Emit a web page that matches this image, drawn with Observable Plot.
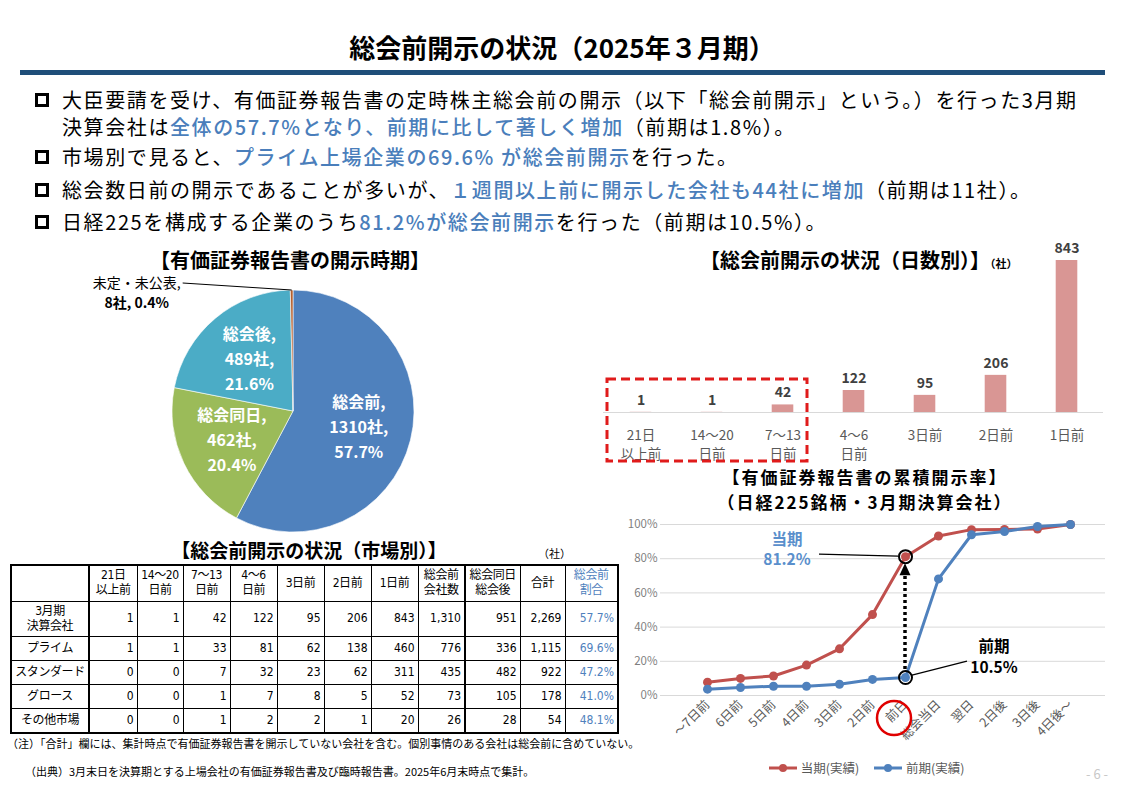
<!DOCTYPE html>
<html><head><meta charset="utf-8">
<script src="https://cdn.jsdelivr.net/npm/d3@7"></script>
<script src="https://cdn.jsdelivr.net/npm/@observablehq/plot@0.6"></script>
<style>
body{margin:0;background:#fff;}
#page{position:relative;width:1124px;height:792px;overflow:hidden;background:#fff;font-family:"Noto Sans CJK JP","Noto Sans",sans-serif;color:#000;}
.abs{position:absolute;}
.title{left:0;top:30px;width:1124px;text-align:center;font-size:26px;font-weight:bold;line-height:34px;}
.rule{left:20px;top:70px;width:1085px;height:5px;background:#1f4e79;}
.bl{left:62px;font-size:20px;line-height:27px;letter-spacing:1.6px;white-space:nowrap;}
.hl{color:#4a7ebb;font-weight:500;}
.sq{left:35px;width:8px;height:8px;border:3px solid #000;}
.sub{font-size:20px;font-weight:bold;white-space:nowrap;text-align:center;}
.unit{font-size:11px;}
table.t{border-collapse:collapse;table-layout:fixed;font-size:12px;}
table.t td{border:1px solid #000;padding:0 3px;white-space:pre;overflow:hidden;line-height:15px;font-family:"Liberation Sans Narrow","DejaVu Sans Condensed","Noto Sans CJK JP",sans-serif;}
table.t td.hd{padding:0;letter-spacing:-0.4px;}
.note{font-size:11px;white-space:nowrap;}
.leg{font-size:12.5px;color:#595959;white-space:nowrap;}
</style></head><body><div id="page"></div>
<script>
// ---------- data ----------
const pieLabels = ["総会前", "総会同日", "総会後", "未定・未公表"];
const pieCounts = [1310, 462, 489, 8];
const piePct = [57.7, 20.4, 21.6, 0.4];
const pieColors = ["#4f81bd", "#9bbb59", "#4bacc6", "#b5602f"];

const barCats = ["21日\n以上前", "14〜20\n日前", "7〜13\n日前", "4〜6\n日前", "3日前", "2日前", "1日前"];
const barValues = [1, 1, 42, 122, 95, 206, 843];

const lineCats = ["〜7日前", "6日前", "5日前", "4日前", "3日前", "2日前", "前日", "総会当日", "翌日", "2日後", "3日後", "4日後〜"];
const currentPct = [7.8, 10.0, 11.4, 17.8, 27.3, 47.3, 81.2, 93.3, 97.0, 97.1, 97.4, 100];
const priorPct = [3.7, 4.7, 5.4, 5.4, 6.6, 9.4, 10.5, 68.2, 94.0, 95.9, 98.8, 100];
const seriesNames = ["当期(実績)", "前期(実績)"];
const seriesColors = ["#c0504d", "#4f81bd"];

const tableCols = ["21日\n以上前", "14〜20\n日前", "7〜13\n日前", "4〜6\n日前", "3日前", "2日前", "1日前", "総会前\n会社数", "総会同日\n総会後", "合計", "総会前\n割合"];
const tableRows = ["3月期\n決算会社", "プライム", "スタンダード", "グロース", "その他市場"];
const tblMarch = [1, 1, 42, 122, 95, 206, 843, 1310, 951, 2269, 57.7];
const tblPrime = [1, 1, 33, 81, 62, 138, 460, 776, 336, 1115, 69.6];
const tblStandard = [0, 0, 7, 32, 23, 62, 311, 435, 482, 922, 47.2];
const tblGrowth = [0, 0, 1, 7, 8, 5, 52, 73, 105, 178, 41.0];
const tblOther = [0, 0, 1, 2, 2, 1, 20, 26, 28, 54, 48.1];

// ---------- page ----------
const FONT = '"Noto Sans CJK JP","Noto Sans",sans-serif';
const page = document.getElementById("page");
function add(html, cls, css) {
  const d = document.createElement("div");
  d.className = "abs " + (cls || "");
  d.innerHTML = html;
  Object.assign(d.style, css || {});
  page.appendChild(d);
  return d;
}
add("総会前開示の状況（2025年３月期）", "title");
add("", "rule");
[100, 157, 190, 222].forEach(y => add("", "sq", {top: (y - 7) + "px"}));
add('大臣要請を受け、有価証券報告書の定時株主総会前の開示（以下「総会前開示」という。）を行った3月期<br>決算会社は<span class="hl">全体の57.7%となり、前期に比して著しく増加</span>（前期は1.8%）。', "bl", {top: "86px"});
add('市場別で見ると、<span class="hl">プライム上場企業の69.6% が総会前開示</span>を行った。', "bl", {top: "143px"});
add('総会数日前の開示であることが多いが、<span class="hl">１週間以上前に開示した会社も44社に増加</span>（前期は11社）。', "bl", {top: "176px"});
add('日経225を構成する企業のうち<span class="hl">81.2%が総会前開示</span>を行った（前期は10.5%）。', "bl", {top: "208px"});

// ---------- pie ----------
add("【有価証券報告書の開示時期】", "sub", {left: "90px", width: "400px", top: "246px", lineHeight: "28px"});
const pie = Plot.plot({
  width: 340, height: 280, marginLeft: 89, marginRight: 9, marginTop: 29, marginBottom: 9,
  x: {domain: [-1, 1], axis: null}, y: {domain: [1, -1], axis: null},
  color: {domain: pieLabels, range: pieColors},
  style: {background: "transparent", fontFamily: FONT, overflow: "visible"},
  marks: [
    Plot.dot(pieLabels, {x: () => 0, y: () => 0, r: 0, fill: d => d}),
    (index, scales) => {
      const cx = scales.x(0), cy = scales.y(0), r = scales.x(1) - cx;
      const g = d3.create("svg:g").attr("transform", `translate(${cx},${cy})`);
      const arcs = d3.pie().sort(null).value(i => pieCounts[i])(d3.range(pieLabels.length));
      const arc = d3.arc().innerRadius(0).outerRadius(r);
      g.selectAll("path").data(arcs).join("path")
        .attr("d", arc).attr("fill", a => scales.color(pieLabels[a.data]))
        .attr("stroke", "#fff").attr("stroke-width", 0.6);
      const lab = d3.arc().innerRadius(r * 0.56).outerRadius(r * 0.56);
      arcs.slice(0, 3).forEach(a => {
        const [lx, ly] = lab.centroid(a);
        const i = a.data;
        [pieLabels[i] + ",", pieCounts[i] + "社,", piePct[i].toFixed(1) + "%"].forEach((s, k) =>
          g.append("text").attr("fill", "#fff").attr("font-weight", "bold")
            .attr("font-size", 16).attr("text-anchor", "middle")
            .attr("x", lx).attr("y", ly + (k - 1) * 25 + 6).text(s));
      });
      // small slice: outside label with leader
      const a = arcs[3];
      const edge = d3.arc().innerRadius(r).outerRadius(r).centroid(a);
      g.append("line").attr("x1", edge[0] - 109).attr("y1", edge[1] - 7).attr("x2", edge[0]).attr("y2", edge[1])
        .attr("stroke", "#000").attr("stroke-width", 1);
      g.append("text").attr("text-anchor", "middle").attr("font-size", 14).attr("fill", "#000")
        .attr("x", edge[0] - 155).attr("y", edge[1] - 2).text(pieLabels[3] + ",");
      g.append("text").attr("text-anchor", "middle").attr("font-size", 14).attr("fill", "#000")
        .attr("x", edge[0] - 155).attr("y", edge[1] + 18).attr("font-weight", "bold")
        .text(pieCounts[3] + "社, " + piePct[3].toFixed(1) + "%");
      return g.node();
    }
  ]
});
add("", "", {left: "83px", top: "261px"}).appendChild(pie);

// ---------- bar ----------
add('【総会前開示の状況（日数別）】<span class="unit">（社）</span>', "sub", {left: "700px", width: "330px", top: "246px", lineHeight: "28px", textAlign: "left"});
const barData = barCats.map((c, i) => ({c, v: barValues[i]}));
const bar = Plot.plot({
  width: 510, height: 250, marginLeft: 3, marginRight: 7, marginTop: 20, marginBottom: 78,
  x: {domain: barCats, padding: 0, label: null},
  y: {domain: [0, 843], axis: null},
  style: {background: "transparent", fontFamily: FONT, overflow: "visible"},
  marks: [
    Plot.barY(barData, {x: "c", y: "v", fill: "#d99694", insetLeft: 24.7, insetRight: 24.7}),
    Plot.ruleY([0], {stroke: "#d9d9d9", strokeWidth: 1.2}),
    Plot.text(barData, {x: "c", y: "v", text: d => String(d.v), dy: -12, fontWeight: "bold", fontSize: 14, fill: "#404040"}),
    Plot.axisX({tickSize: 0, tickPadding: 15, fontSize: 13.5, color: "#595959", lineAnchor: "top", lineHeight: 1.35, label: null})
  ]
});
add("", "", {left: "600px", top: "240px"}).appendChild(bar);
add('<svg width="206" height="88"><rect x="3" y="3" width="200" height="82" fill="none" stroke="#e01b1b" stroke-width="3" stroke-dasharray="9,5"/></svg>', "", {left: "604px", top: "376px"});

// ---------- line ----------
add('【有価証券報告書の累積開示率】', "sub", {left: "665px", width: "400px", top: "465px", lineHeight: "24px", fontSize: "17px", letterSpacing: "2px"});
add('（日経225銘柄・3月期決算会社）', "sub", {left: "665px", width: "400px", top: "490px", lineHeight: "24px", fontSize: "17px", letterSpacing: "2px"});
const lineData = lineCats.flatMap((c, i) => [
  {c, v: currentPct[i], s: seriesNames[0]},
  {c, v: priorPct[i], s: seriesNames[1]}
]);
const iFront = lineCats.indexOf("前日");
const hiPts = [{c: lineCats[iFront], v: currentPct[iFront]}, {c: lineCats[iFront], v: priorPct[iFront]}];
const yTicks = [0, 20, 40, 60, 80, 100];
const line = Plot.plot({
  width: 505, height: 250, marginLeft: 50, marginRight: 10, marginTop: 14, marginBottom: 65,
  x: {type: "point", domain: lineCats, range: [78, 478], label: null},
  y: {domain: [0, 100], label: null},
  color: {domain: seriesNames, range: seriesColors},
  style: {background: "transparent", fontFamily: FONT, overflow: "visible"},
  marks: [
    Plot.gridY(yTicks, {stroke: "#d9d9d9", strokeOpacity: 1}),
    Plot.axisY(yTicks, {tickSize: 0, tickPadding: 3, fontSize: 11.5, color: "#7f7f7f", tickFormat: d => d + "%", label: null}),
    Plot.axisX({tickRotate: -45, tickSize: 0, tickPadding: 7, fontSize: 12.5, color: "#595959", label: null}),
    Plot.line(lineData, {x: "c", y: "v", stroke: "s", strokeWidth: 3, z: "s"}),
    Plot.dot(lineData, {x: "c", y: "v", fill: "s", r: 4.5}),
    Plot.dot(hiPts, {x: "c", y: "v", r: 6.5, stroke: "#000", strokeWidth: 2, fill: "none"}),
    (index, scales) => {
      const g = d3.create("svg:g");
      const px = scales.x(hiPts[0].c), pyC = scales.y(hiPts[0].v), pyP = scales.y(hiPts[1].v);
      // dotted arrow
      g.append("line").attr("x1", px).attr("x2", px).attr("y1", pyP - 8).attr("y2", pyC + 17)
        .attr("stroke", "#000").attr("stroke-width", 3.5).attr("stroke-dasharray", "3,3");
      g.append("path").attr("d", `M${px},${pyC + 7}L${px - 5.5},${pyC + 19}L${px + 5.5},${pyC + 19}Z`).attr("fill", "#000");
      // leaders
      g.append("line").attr("x1", px - 86).attr("y1", pyC - 2).attr("x2", px - 7).attr("y2", pyC)
        .attr("stroke", "#000").attr("stroke-width", 1.2);
      g.append("line").attr("x1", px + 62).attr("y1", pyP - 16).attr("x2", px + 7).attr("y2", pyP - 2)
        .attr("stroke", "#000").attr("stroke-width", 1.2);
      const lbl = (x, y, s, fill) => g.append("text").attr("text-anchor", "middle").attr("font-weight", "bold")
        .attr("font-size", 15.5).attr("fill", fill).attr("x", x).attr("y", y).text(s);
      lbl(px - 118, pyC - 11, "当期", "#5a8fcc");
      lbl(px - 118, pyC + 9, currentPct[iFront].toFixed(1) + "%", "#5a8fcc");
      lbl(px + 89, pyP - 25, "前期", "#000");
      lbl(px + 89, pyP - 4, priorPct[iFront].toFixed(1) + "%", "#000");
      // red circle on the 前日 tick label
      g.append("circle").attr("cx", px - 11).attr("cy", scales.y(0) + 23).attr("r", 17)
        .attr("fill", "none").attr("stroke", "#e00000").attr("stroke-width", 2.5);
      return g.node();
    }
  ]
});
add("", "", {left: "610px", top: "510px"}).appendChild(line);

// legend
const legHtml = seriesNames.map((n, i) =>
  `<span style="display:inline-block;margin-right:${i ? 0 : 14}px"><svg width="30" height="10" style="vertical-align:middle"><line x1="1" x2="29" y1="5" y2="5" stroke="${seriesColors[i]}" stroke-width="3"/><circle cx="15" cy="5" r="4" fill="${seriesColors[i]}"/></svg> <span style="vertical-align:middle">${n}</span></span>`
).join("");
add(legHtml, "leg", {left: "768px", top: "756px"});
add("- 6 -", "", {left: "1086px", top: "764px", fontSize: "13px", color: "#c8c8c8"});

// ---------- table ----------
add("【総会前開示の状況（市場別）】", "sub", {left: "109px", width: "400px", top: "536px", lineHeight: "28px", fontSize: "19px"});
add("（社）", "unit", {left: "538px", top: "545px"});
const colW = [78, 48, 46, 47, 47, 47, 47, 47, 47, 55, 45, 53];
const rowH = [36, 35, 24, 24, 24, 25];
const tblData = [tblMarch, tblPrime, tblStandard, tblGrowth, tblOther];
const fmt = d3.format(",");
const tbl = d3.create("table").attr("class", "t");
const cg = tbl.append("colgroup");
colW.forEach(w => cg.append("col").style("width", w + "px"));
const hr = tbl.append("tr").style("height", rowH[0] + "px");
hr.append("td").style("border-right", "2px solid #000");
tableCols.forEach((c, j) => hr.append("td").attr("class", "hd").text(c)
  .style("text-align", "center")
  .style("color", j === tableCols.length - 1 ? "#4f81bd" : "#000")
  .style("border-right", j === 7 ? "2px solid #000" : null));
tableRows.forEach((r, i) => {
  const tr = tbl.append("tr").style("height", rowH[i + 1] + "px");
  tr.append("td").attr("class", "hd").text(r).style("text-align", "center").style("border-right", "2px solid #000");
  tblData[i].forEach((v, j) => tr.append("td")
    .text(j === tableCols.length - 1 ? v.toFixed(1) + "%" : fmt(v))
    .style("text-align", "right")
    .style("color", j === tableCols.length - 1 ? "#4f81bd" : "#000")
    .style("border-right", j === 7 ? "2px solid #000" : null));
});
tbl.style("border", "2px solid #000").style("width", d3.sum(colW) + "px");
add("", "", {left: "10px", top: "564px"}).appendChild(tbl.node());

add("（注）「合計」欄には、集計時点で有価証券報告書を開示していない会社を含む。個別事情のある会社は総会前に含めていない。", "note", {left: "7px", top: "735px"});
add("（出典）3月末日を決算期とする上場会社の有価証券報告書及び臨時報告書。2025年6月末時点で集計。", "note", {left: "25px", top: "763px"});
</script></body></html>
